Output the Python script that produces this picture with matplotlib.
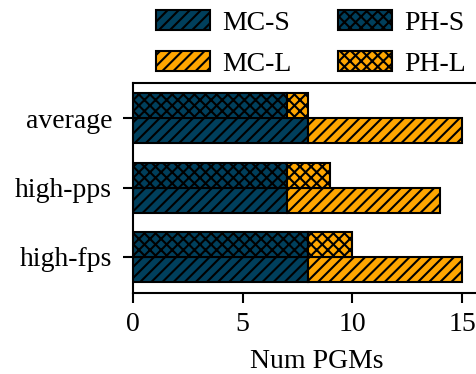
import matplotlib
matplotlib.use("Agg")
import matplotlib.pyplot as plt
import numpy as np

plt.rcParams['font.family'] = ['Liberation Serif', 'DejaVu Serif']
plt.rcParams['hatch.linewidth'] = 1.5

categories = ["high-fps", "high-pps", "average"]
mc_s = [8, 7, 8]
mc_l = [7, 7, 7]
ph_s = [8, 7, 7]
ph_l = [2, 2, 1]
xticks = [0, 5, 10, 15]

blue = "#003f5c"
orange = "#ffa600"
FS = 20

fig = plt.figure(figsize=(4.77, 3.74), dpi=100)
ax = fig.add_axes([133/477, 1-293/374, (500-133)/477, (293-83)/374])

y = np.arange(len(categories))
h = 0.36
kw = dict(edgecolor="black", linewidth=1.5)
ax.barh(y - h/2, mc_s, h, color=blue, hatch="///", label="MC-S", **kw)
ax.barh(y - h/2, mc_l, h, left=mc_s, color=orange, hatch="///", label="MC-L", **kw)
ax.barh(y + h/2, ph_s, h, color=blue, hatch="xxx", label="PH-S", **kw)
ax.barh(y + h/2, ph_l, h, left=ph_s, color=orange, hatch="xxx", label="PH-L", **kw)

ax.set_ylim(-0.52, 2.51)
ax.set_xlim(0, (500-133)/((462-133)/15))
ax.set_yticks(y)
ax.set_yticklabels(categories, fontsize=FS)
ax.set_xticks(xticks)
ax.set_xticklabels([str(t) for t in xticks], fontsize=FS)
ax.set_xlabel("Num PGMs", fontsize=FS, labelpad=8)
for s in ax.spines.values():
    s.set_linewidth(1.5)
ax.spines['right'].set_visible(False)
ax.tick_params(width=1.5, length=7)
ax.tick_params(axis='x', pad=7)
ax.tick_params(axis='y', pad=8)

handles, labels = ax.get_legend_handles_labels()
fig.legend(handles, labels, ncol=2, loc="upper left", bbox_to_anchor=(142/477, 1.01),
           frameon=False, fontsize=FS, handlelength=1.95, handleheight=0.72,
           columnspacing=1.65, handletextpad=0.45, labelspacing=0.55, borderaxespad=0.1)

fig.savefig("out.png", dpi=100)
